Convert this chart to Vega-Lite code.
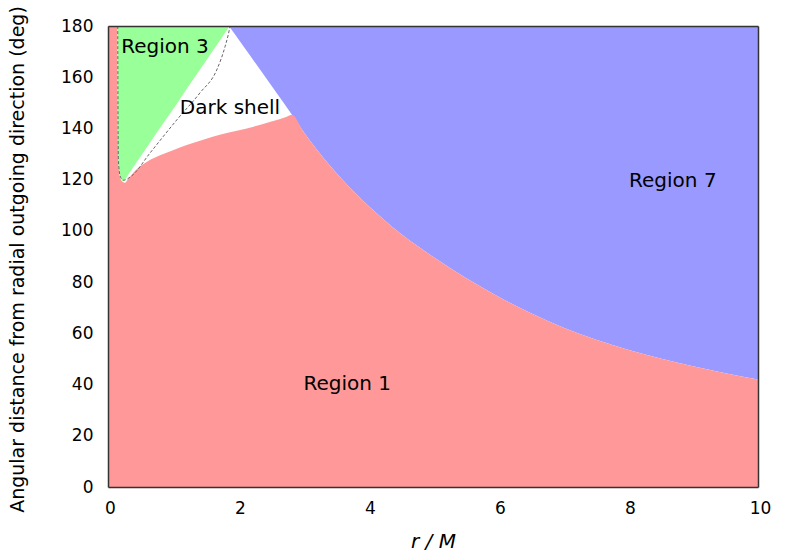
{
  "$schema": "https://vega.github.io/schema/vega-lite/v6.json",
  "width": 650,
  "height": 461,
  "autosize": {"type": "none"},
  "padding": {"left": 108, "top": 26, "right": 40, "bottom": 71},
  "background": "white",
  "config": {"view": {"stroke": null}, "font": "DejaVu Sans"},
  "datasets": {
    "red": [
      {"r": 0, "theta": 180}, {"r": 0.143, "theta": 180}, {"r": 0.148, "theta": 150},
      {"r": 0.155, "theta": 132}, {"r": 0.165, "theta": 125}, {"r": 0.18, "theta": 121.5},
      {"r": 0.2, "theta": 120}, {"r": 0.23, "theta": 119.1}, {"r": 0.26, "theta": 118.8},
      {"r": 0.3, "theta": 120.0}, {"r": 0.4, "theta": 123.0}, {"r": 0.49, "theta": 125.1},
      {"r": 0.6, "theta": 127.0}, {"r": 0.8, "theta": 129.5}, {"r": 1.0, "theta": 131.5},
      {"r": 1.21, "theta": 133.5}, {"r": 1.5, "theta": 135.9}, {"r": 1.72, "theta": 137.5},
      {"r": 2.0, "theta": 139.2}, {"r": 2.24, "theta": 140.7}, {"r": 2.5, "theta": 142.6},
      {"r": 2.75, "theta": 144.6}, {"r": 2.83, "theta": 145.3},
      {"r": 3.0, "theta": 139.0}, {"r": 3.2, "theta": 132.2}, {"r": 3.4, "theta": 125.9},
      {"r": 3.6, "theta": 120.2}, {"r": 3.8, "theta": 114.9}, {"r": 4.0, "theta": 109.9},
      {"r": 4.25, "theta": 104.3}, {"r": 4.5, "theta": 99.0}, {"r": 4.75, "theta": 94.3},
      {"r": 5.0, "theta": 89.9}, {"r": 5.5, "theta": 81.7}, {"r": 6.0, "theta": 74.4},
      {"r": 6.5, "theta": 67.9}, {"r": 7.0, "theta": 62.3}, {"r": 7.5, "theta": 57.6},
      {"r": 8.0, "theta": 53.6}, {"r": 8.5, "theta": 50.2}, {"r": 9.0, "theta": 47.1},
      {"r": 9.5, "theta": 44.4}, {"r": 10, "theta": 42}
    ],
    "blue": [
      {"r": 1.86, "theta": 180}, {"r": 2.1, "theta": 171.5}, {"r": 2.35, "theta": 162.6},
      {"r": 2.6, "theta": 153.6}, {"r": 2.83, "theta": 145.3},
      {"r": 3.0, "theta": 139.0}, {"r": 3.2, "theta": 132.2}, {"r": 3.4, "theta": 125.9},
      {"r": 3.6, "theta": 120.2}, {"r": 3.8, "theta": 114.9}, {"r": 4.0, "theta": 109.9},
      {"r": 4.25, "theta": 104.3}, {"r": 4.5, "theta": 99.0}, {"r": 4.75, "theta": 94.3},
      {"r": 5.0, "theta": 89.9}, {"r": 5.5, "theta": 81.7}, {"r": 6.0, "theta": 74.4},
      {"r": 6.5, "theta": 67.9}, {"r": 7.0, "theta": 62.3}, {"r": 7.5, "theta": 57.6},
      {"r": 8.0, "theta": 53.6}, {"r": 8.5, "theta": 50.2}, {"r": 9.0, "theta": 47.1},
      {"r": 9.5, "theta": 44.4}, {"r": 10, "theta": 42}
    ],
    "green": [
      {"r": 0.148, "theta": 180}, {"r": 0.152, "theta": 140}, {"r": 0.16, "theta": 126},
      {"r": 0.18, "theta": 121.8}, {"r": 0.21, "theta": 120}, {"r": 0.24, "theta": 119.4},
      {"r": 0.3, "theta": 121.5}, {"r": 0.44, "theta": 126.8}, {"r": 0.6, "theta": 132.8},
      {"r": 0.877, "theta": 143.0}, {"r": 1.05, "theta": 149.3}, {"r": 1.22, "theta": 155.8},
      {"r": 1.4, "theta": 162.4}, {"r": 1.57, "theta": 168.8}, {"r": 1.75, "theta": 175.4},
      {"r": 1.87, "theta": 180}
    ],
    "dash": [
      {"k": 1, "r": 0.15, "theta": 180}, {"k": 2, "r": 0.152, "theta": 160},
      {"k": 3, "r": 0.155, "theta": 140}, {"k": 4, "r": 0.16, "theta": 128},
      {"k": 5, "r": 0.175, "theta": 123}, {"k": 6, "r": 0.2, "theta": 120.6},
      {"k": 7, "r": 0.24, "theta": 119.8}, {"k": 8, "r": 0.365, "theta": 121.5},
      {"k": 9, "r": 0.646, "theta": 130.4}, {"k": 10, "r": 1.057, "theta": 143.3},
      {"k": 11, "r": 1.415, "theta": 153.9}, {"k": 12, "r": 1.672, "theta": 162.8},
      {"k": 13, "r": 1.8, "theta": 171.9}, {"k": 14, "r": 1.866, "theta": 178.5},
      {"k": 15, "r": 1.877, "theta": 180}
    ],
    "labels": [
      {"r": 0.877, "theta": 171.8, "label": "Region 3"},
      {"r": 1.877, "theta": 148, "label": "Dark shell"},
      {"r": 8.69, "theta": 119.5, "label": "Region 7"},
      {"r": 3.68, "theta": 40.2, "label": "Region 1"}
    ]
  },
  "resolve": {"axis": {"x": "independent", "y": "independent"}},
  "layer": [
    {
      "data": {"name": "blue"},
      "mark": {"type": "area", "color": "#9999ff", "interpolate": "monotone"},
      "encoding": {
        "x": {"field": "r", "type": "quantitative", "scale": {"domain": [0, 10], "nice": false},
          "axis": {"orient": "bottom", "values": [0, 2, 4, 6, 8, 10], "ticks": false, "grid": false,
            "domain": true, "domainColor": "#333333", "domainWidth": 1.5, "zindex": 1, "labelFlush": false,
            "labelFont": "DejaVu Sans", "labelFontSize": 17, "labelColor": "#000000", "labelPadding": 13,
            "labelOffset": 2,
            "title": "r / M", "titleFont": "DejaVu Sans", "titleFontSize": 20, "titleFontWeight": "normal",
            "titleFontStyle": "italic", "titleColor": "#000000", "titlePadding": 15}},
        "y": {"field": "theta", "type": "quantitative", "scale": {"domain": [0, 180], "nice": false, "zero": false},
          "axis": {"orient": "left", "values": [0, 20, 40, 60, 80, 100, 120, 140, 160, 180], "ticks": false, "grid": false,
            "domain": true, "domainColor": "#333333", "domainWidth": 1.5, "zindex": 1,
            "labelFont": "DejaVu Sans", "labelFontSize": 17, "labelColor": "#000000", "labelPadding": 15,
            "title": "Angular distance from radial outgoing direction (deg)", "titleFont": "DejaVu Sans",
            "titleFontSize": 19, "titleFontWeight": "normal", "titleColor": "#000000",
            "titleLimit": 2000, "titleX": -91, "titleY": 233, "titleAngle": -90,
            "titleAlign": "center", "titleBaseline": "middle"}},
        "y2": {"datum": 180}
      }
    },
    {
      "data": {"name": "red"},
      "mark": {"type": "area", "color": "#ff9999", "interpolate": "monotone"},
      "encoding": {
        "x": {"field": "r", "type": "quantitative", "axis": null},
        "y": {"field": "theta", "type": "quantitative", "axis": null}
      }
    },
    {
      "data": {"name": "green"},
      "mark": {"type": "area", "color": "#99ff99", "interpolate": "monotone"},
      "encoding": {
        "x": {"field": "r", "type": "quantitative", "axis": null},
        "y": {"field": "theta", "type": "quantitative", "axis": null},
        "y2": {"datum": 180}
      }
    },
    {
      "data": {"name": "dash"},
      "mark": {"type": "line", "color": "#666666", "strokeWidth": 1, "strokeDash": [3, 2], "interpolate": "monotone"},
      "encoding": {
        "x": {"field": "r", "type": "quantitative",
          "axis": {"orient": "top", "labels": false, "ticks": false, "grid": false, "title": null,
            "domain": true, "domainColor": "#333333", "domainWidth": 1.5, "zindex": 1}},
        "y": {"field": "theta", "type": "quantitative",
          "axis": {"orient": "right", "labels": false, "ticks": false, "grid": false, "title": null,
            "domain": true, "domainColor": "#333333", "domainWidth": 1.5, "zindex": 1}},
        "order": {"field": "k", "type": "quantitative"}
      }
    },
    {
      "data": {"name": "labels"},
      "mark": {"type": "text", "font": "DejaVu Sans", "fontSize": 20, "color": "#000000", "align": "center", "baseline": "middle"},
      "encoding": {
        "x": {"field": "r", "type": "quantitative", "axis": null},
        "y": {"field": "theta", "type": "quantitative", "axis": null},
        "text": {"field": "label", "type": "nominal"}
      }
    }
  ]
}
